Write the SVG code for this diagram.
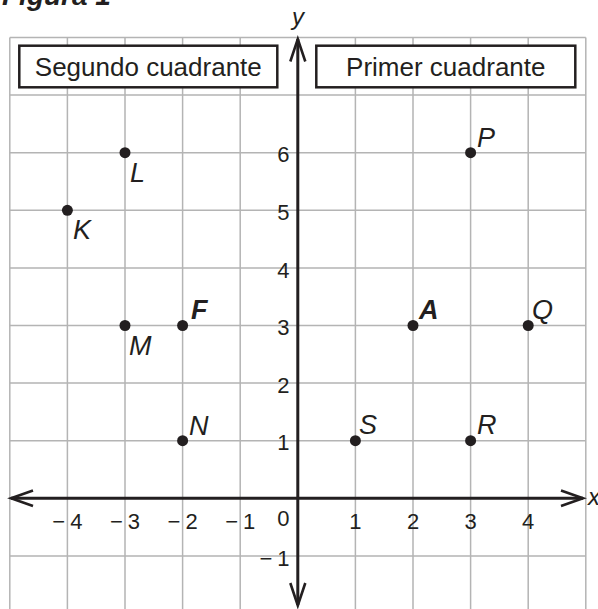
<svg xmlns="http://www.w3.org/2000/svg" width="598" height="609" viewBox="0 0 598 609">
<style>
.grid{stroke:#b4b4b4;stroke-width:1.5;fill:none}
.axis{stroke:#231f20;stroke-width:3;fill:none}
.arrow{stroke:#231f20;stroke-width:2.6;fill:none;stroke-linecap:butt;stroke-linejoin:miter}
.box{fill:#fff;stroke:#231f20;stroke-width:2.5}
.boxtxt{font-family:"Liberation Sans",Arial,sans-serif;font-size:26px;fill:#231f20;text-anchor:middle}
.num{font-family:"Liberation Sans",Arial,sans-serif;font-size:22px;fill:#231f20}
.xn{text-anchor:middle}
.yn{text-anchor:end}
.lbl{font-family:"Liberation Sans",Arial,sans-serif;font-size:27px;font-style:italic;fill:#231f20}
.bold{font-weight:bold}
.dot{fill:#231f20}
.ax{font-family:"Liberation Sans",Arial,sans-serif;font-size:24px;font-style:italic;fill:#231f20}
</style>
<rect width="598" height="609" fill="#fff"/>
<text x="2" y="5" font-family="Liberation Sans, Arial, sans-serif" font-size="28" font-weight="bold" font-style="italic" fill="#231f20">Figura 1</text>
<g id="grid" class="grid">
<path d="M9.8 37.5V609M67.4 37.5V609M125 37.5V609M182.6 37.5V609M240.2 37.5V609M355.4 37.5V609M413 37.5V609M470.6 37.5V609M528.2 37.5V609M585.8 37.5V609"/>
<path d="M9.8 37.5H585.8M9.8 95.1H585.8M9.8 152.7H585.8M9.8 210.3H585.8M9.8 267.9H585.8M9.8 325.5H585.8M9.8 383.1H585.8M9.8 440.7H585.8M9.8 555.9H585.8"/>
</g>
<g id="connectors">
<path class="axis" d="M11 498.3H583"/>
<path class="axis" d="M297.8 39V605"/>
<path class="arrow" d="M33 490.5L11 498.3L33 506.1"/>
<path class="arrow" d="M561 490.5L583 498.3L561 506.1"/>
<path class="arrow" d="M290.3 61.5L297.8 39L305.3 61.5"/>
<path class="arrow" d="M290.3 583L297.8 605.5L305.3 583"/>
</g>
<text class="ax" x="292" y="25">y</text>
<text class="ax" x="588" y="505">x</text>
<g id="box-segundo">
<rect class="box" x="19.3" y="45.7" width="258" height="41.6"/>
<text class="boxtxt" x="148.3" y="76">Segundo cuadrante</text>
</g>
<g id="box-primer">
<rect class="box" x="316.3" y="45.7" width="259" height="41.6"/>
<text class="boxtxt" x="445.8" y="76">Primer cuadrante</text>
</g>
<g id="x-labels" class="num xn">
<text x="67.4" y="529">−<tspan dx="5">4</tspan></text>
<text x="125" y="529">−<tspan dx="5">3</tspan></text>
<text x="182.6" y="529">−<tspan dx="5">2</tspan></text>
<text x="240.2" y="529">−<tspan dx="5">1</tspan></text>
<text x="355.4" y="529">1</text>
<text x="413" y="529">2</text>
<text x="470.6" y="529">3</text>
<text x="528.2" y="529">4</text>
</g>
<g id="y-labels" class="num yn">
<text x="289.5" y="526">0</text>
<text x="289.5" y="162.3">6</text>
<text x="289.5" y="219.9">5</text>
<text x="289.5" y="277.5">4</text>
<text x="289.5" y="335.1">3</text>
<text x="289.5" y="392.7">2</text>
<text x="289.5" y="450.3">1</text>
<text x="289.5" y="566">−<tspan dx="5">1</tspan></text>
</g>
<g id="point-L"><circle class="dot" cx="125" cy="152.7" r="5.5"/><text class="lbl" x="130" y="182">L</text></g>
<g id="point-K"><circle class="dot" cx="67.4" cy="210.3" r="5.5"/><text class="lbl" x="73" y="239">K</text></g>
<g id="point-M"><circle class="dot" cx="125" cy="325.5" r="5.5"/><text class="lbl" x="129" y="355">M</text></g>
<g id="point-F"><circle class="dot" cx="182.6" cy="325.5" r="5.5"/><text class="lbl bold" x="191" y="319">F</text></g>
<g id="point-N"><circle class="dot" cx="182.6" cy="440.7" r="5.5"/><text class="lbl" x="189" y="435">N</text></g>
<g id="point-P"><circle class="dot" cx="470.6" cy="152.7" r="5.5"/><text class="lbl" x="477" y="147">P</text></g>
<g id="point-A"><circle class="dot" cx="413" cy="325.5" r="5.5"/><text class="lbl bold" x="419" y="319">A</text></g>
<g id="point-Q"><circle class="dot" cx="528.2" cy="325.5" r="5.5"/><text class="lbl" x="532" y="319">Q</text></g>
<g id="point-S"><circle class="dot" cx="355.4" cy="440.7" r="5.5"/><text class="lbl" x="359" y="434">S</text></g>
<g id="point-R"><circle class="dot" cx="470.6" cy="440.7" r="5.5"/><text class="lbl" x="477" y="434">R</text></g>
</svg>
